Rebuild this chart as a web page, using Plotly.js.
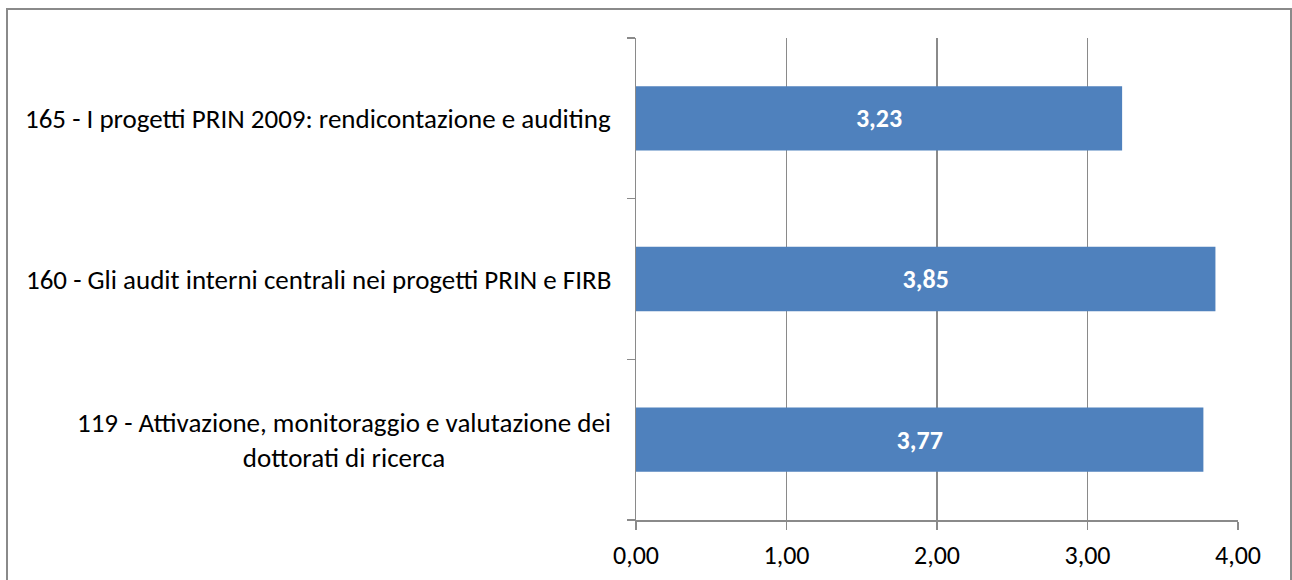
<!DOCTYPE html>
<html><head><meta charset="utf-8">
<script src="https://cdn.plot.ly/plotly-3.0.1.min.js"></script>
<style>
html,body{margin:0;padding:0;background:#fff;}
#wrap{position:relative;width:1292px;height:580px;overflow:hidden;}
#chart{width:1292px;height:580px;}
#frame{position:absolute;left:6px;top:8px;width:1282px;height:600px;border:2px solid #8a8a8a;pointer-events:none;}
</style></head>
<body><div id="wrap"><div id="chart"></div><div id="frame"></div></div>
<script>
const categories = [
  "119 - Attivazione, monitoraggio e valutazione dei<br>dottorati di ricerca",
  "160 - Gli audit interni centrali nei progetti PRIN e FIRB",
  "165 - I progetti PRIN 2009: rendicontazione e auditing"
];
const values = [3.77, 3.85, 3.23];
const valueLabels = ["3,77", "3,85", "3,23"];
const xTickVals = [0, 1, 2, 3, 4];
const xTickText = ["0,00", "1,00", "2,00", "3,00", "4,00"];

const FONT = "Calibri, Carlito, 'Open Sans', sans-serif";
const trace = {
  type: "bar", orientation: "h",
  x: values, y: categories,
  marker: {color: "#4f81bd"},
  text: valueLabels, textposition: "inside", insidetextanchor: "middle",
  textfont: {family: FONT, size: 26, color: "#ffffff", weight: "bold"},
  hoverinfo: "skip"
};
const annotations = categories.map((c) => ({
  xref: "paper", yref: "y", x: 0, y: c, xanchor: "right", yanchor: "middle",
  xshift: -23, text: c, showarrow: false, align: "center",
  font: {family: FONT, size: 27, color: "#000"}
}));
const layout = {
  width: 1292, height: 580,
  margin: {l: 636, r: 54, t: 38, b: 60},
  paper_bgcolor: "#fff", plot_bgcolor: "#fff",
  separators: ",.",
  bargap: 0.6,
  showlegend: false,
  xaxis: {
    range: [0, 4], tickvals: xTickVals, ticktext: xTickText,
    showgrid: true, gridcolor: "#8a8a8a", gridwidth: 1.5,
    showline: true, linecolor: "#8a8a8a", linewidth: 1.5,
    ticks: "outside", ticklen: 8, tickcolor: "#8a8a8a", tickwidth: 1.5,
    ticklabelstandoff: 3,
    tickfont: {family: FONT, size: 26, color: "#000"},
    zeroline: false, fixedrange: true
  },
  yaxis: {
    type: "category", categoryarray: categories,
    showticklabels: false,
    showline: true, linecolor: "#8a8a8a", linewidth: 1.5,
    ticks: "outside", ticklen: 8, tickcolor: "#8a8a8a", tickwidth: 1.5,
    tickson: "boundaries", showgrid: false, zeroline: false, fixedrange: true
  },
  annotations: annotations
};
Plotly.newPlot("chart", [trace], layout, {displayModeBar: false, staticPlot: true});
</script></body></html>
